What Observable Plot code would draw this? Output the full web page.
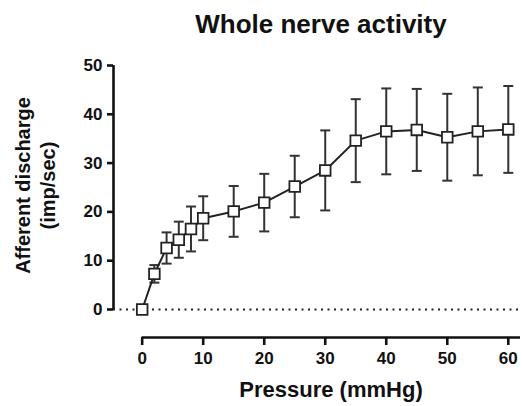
<!DOCTYPE html>
<html><head><meta charset="utf-8">
<script src="https://cdn.jsdelivr.net/npm/d3@7"></script>
<script src="https://cdn.jsdelivr.net/npm/@observablehq/plot@0.6"></script>
<style>
body{margin:0;background:#fff;}
#title{width:522px;height:40px;box-sizing:border-box;padding-top:9px;padding-left:120px;text-align:center;font:bold 26px/30px "Liberation Sans",Arial,sans-serif;color:#111;}
</style></head><body>
<div id="title">Whole nerve activity</div>
<div id="chart"></div>
<script>
// Data
const pressure  = [0, 2, 4, 6, 8, 10, 15, 20, 25, 30, 35, 40, 45, 50, 55, 60];
const discharge = [0, 7.3, 12.6, 14.3, 16.5, 18.7, 20.1, 21.9, 25.2, 28.5, 34.6, 36.5, 36.8, 35.3, 36.5, 36.9];
const sem       = [0, 1.8, 3.2, 3.7, 4.6, 4.5, 5.2, 5.9, 6.3, 8.2, 8.5, 8.8, 8.4, 8.9, 9.0, 8.9];
const xTicks = [0, 10, 20, 30, 40, 50, 60];
const yTicks = [0, 10, 20, 30, 40, 50];
const xLabel = "Pressure (mmHg)";
const yLabel = "Afferent discharge\n(imp/sec)";

const data = pressure.map((p, i) => ({p, v: discharge[i], lo: discharge[i] - sem[i], hi: discharge[i] + sem[i], e: sem[i]}));
const withErr = data.filter(d => d.e > 0);

// axis offsets (axes drawn detached from the origin, Prism style)
const xMin = -4.7, xMax = 62;
const yMin = -5.74, yMax = 50;

const cap = {draw(ctx, size) { const r = Math.sqrt(size / Math.PI); ctx.moveTo(-r, 0); ctx.lineTo(r, 0); }};

const chart = Plot.plot({
  width: 522, height: 366,
  marginLeft: 113, marginRight: 2, marginTop: 25, marginBottom: 69,
  style: {fontFamily: "'Liberation Sans', Arial, sans-serif", fontSize: "17px", fontWeight: "bold", color: "#111", background: "#fff"},
  x: {domain: [xMin, xMax]},
  y: {domain: [yMin, yMax]},
  marks: [
    Plot.ruleY([0], {stroke: "#222", strokeWidth: 2, strokeDasharray: "2,4.5"}),
    Plot.ruleX([xMin], {y1: 0, y2: yMax, stroke: "#111", strokeWidth: 2.6}),
    Plot.ruleY([yMin], {x1: 0, x2: xMax, stroke: "#111", strokeWidth: 2.6}),
    Plot.axisY({ticks: yTicks, tickSize: 6, tickPadding: 5, label: null, strokeWidth: 2.6, fontSize: 17, fontWeight: "bold"}),
    Plot.axisX({ticks: xTicks, tickSize: 8, tickPadding: 6, label: null, strokeWidth: 2.6, fontSize: 17, fontWeight: "bold"}),
    Plot.ruleX(withErr, {x: "p", y1: "lo", y2: "hi", stroke: "#333", strokeWidth: 2}),
    Plot.dot(withErr, {x: "p", y: "hi", symbol: cap, r: 5, stroke: "#333", strokeWidth: 2, fill: "none"}),
    Plot.dot(withErr, {x: "p", y: "lo", symbol: cap, r: 5, stroke: "#333", strokeWidth: 2, fill: "none"}),
    Plot.line(data, {x: "p", y: "v", stroke: "#222", strokeWidth: 2}),
    Plot.dot(data, {x: "p", y: "v", symbol: "square", r: 6, fill: "#fff", stroke: "#222", strokeWidth: 1.8}),
    Plot.text([yLabel], {frameAnchor: "left", rotate: -90, textAnchor: "middle", lineAnchor: "middle", dx: -79, dy: -16, fontSize: 20, fontWeight: "bold", lineHeight: 1.25, fill: "#111"}),
    Plot.text([xLabel], {frameAnchor: "bottom", textAnchor: "middle", lineAnchor: "middle", dx: 14, dy: 52, fontSize: 22, fontWeight: "bold", fill: "#111"})
  ]
});
document.getElementById("chart").appendChild(chart);
</script>
</body></html>
